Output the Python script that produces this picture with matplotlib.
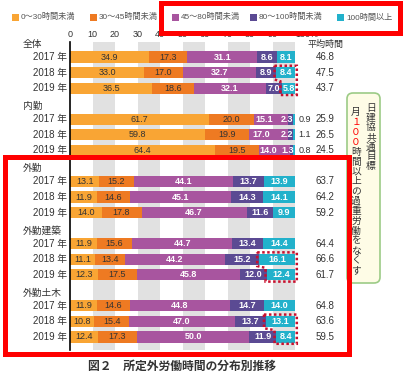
#!/usr/bin/env python3

import numpy as np
from matplotlib import pyplot, patches


GROUPS = ["全体", "内勤", "外勤", "外勤建築", "外勤土木"]
YEARS = ["2017 年", "2018 年", "2019 年"]

LEGEND = ["0～30時間未満", "30～45時間未満", "45～80時間未満",
          "80～100時間未満", "100時間以上"]

# share (%) per band, rows: group x year
H0_30 = [34.9, 33.0, 36.5, 61.7, 59.8, 64.4, 13.1, 11.9, 14.0,
         11.9, 11.1, 12.3, 11.9, 10.8, 12.4]
H30_45 = [17.3, 17.0, 18.6, 20.0, 19.9, 19.5, 15.2, 14.6, 17.8,
          15.6, 13.4, 17.5, 14.6, 15.4, 17.3]
H45_80 = [31.1, 32.7, 32.1, 15.1, 17.0, 14.0, 44.1, 45.1, 46.7,
          44.7, 44.2, 45.8, 44.8, 47.0, 50.0]
H80_100 = [8.6, 8.9, 7.0, 2.3, 2.2, 1.3, 13.7, 14.3, 11.6,
           13.4, 15.2, 12.0, 14.7, 13.7, 11.9]
H100 = [8.1, 8.4, 5.8, 0.9, 1.1, 0.8, 13.9, 14.1, 9.9,
        14.4, 16.1, 12.4, 14.0, 13.1, 8.4]
AVERAGE = [46.8, 47.5, 43.7, 25.9, 26.5, 24.5, 63.7, 64.2, 59.2,
           64.4, 66.6, 61.7, 64.8, 63.6, 59.5]

TICKS = [0, 10, 20, 30, 40, 50, 60, 70, 80, 90, 100]
TICK_LABELS = ["0", "10", "20", "30", "40", "50", "60", "70", "80", "90", "100%"]

COLOURS = ['#F9A534', '#EE7A22', '#A8559F', '#5B4A93', '#22B1CB']
TEXT = '#333333'
RED = '#FF0000'

W, H = 404, 380


def fx(px):
    return px / W


def fy(py):
    return 1 - py / H


def main():
    pyplot.rcParams['font.family'] = ['Liberation Sans', 'Noto Sans CJK JP', 'DejaVu Sans']

    fig = pyplot.figure(figsize=(W / 100, H / 100), dpi=100)
    fig.patch.set_facecolor('white')
    ax = fig.add_axes([fx(70), fy(350), fx(295) - fx(70), fy(42) - fy(350)])

    slot_px = 15.55
    top_slot = (42 - 41.5) / slot_px
    bottom_slot = (350 - 41.5) / slot_px
    ax.set_xlim(0, 100)
    ax.set_ylim(bottom_slot, top_slot)

    # grey bands
    for x0 in range(10, 100, 20):
        ax.axvspan(x0, x0 + 10, color='#E1E1E1', lw=0, zorder=0)

    for side in ("right", "top", "bottom"):
        ax.spines[side].set_visible(False)
    ax.spines["left"].set_linewidth(1.2)
    ax.spines["left"].set_color('black')
    ax.set_yticks([])
    ax.xaxis.tick_top()
    ax.set_xticks(TICKS)
    ax.set_xticklabels(TICK_LABELS)
    ax.tick_params(axis='x', length=0, pad=2, labelsize=6.5, labelcolor=TEXT)
    ax.get_xticklabels()[-1].set_horizontalalignment('left')
    ax.get_xticklabels()[-1].set_x(98.2)

    series = [H0_30, H30_45, H45_80, H80_100, H100]
    rows = []
    for g in range(len(GROUPS)):
        rows += [4 * g + 1, 4 * g + 2, 4 * g + 3]
        ax.text(-20.9, 4 * g + 0.15, GROUPS[g], fontsize=7, color=TEXT,
                ha='left', va='center', clip_on=False)
    rows = np.array(rows, dtype=float)
    for i, r in enumerate(rows):
        ax.text(-1.4, r, YEARS[i % 3], fontsize=7, color=TEXT,
                ha='right', va='center', clip_on=False)
        ax.text(113.5, r, f"{AVERAGE[i]:.1f}", fontsize=7, color=TEXT,
                ha='center', va='center', clip_on=False)
    ax.text(113.5, 0.2, "平均時間", fontsize=6.5, color=TEXT,
            ha='center', va='center', clip_on=False)

    bar_h = 0.72
    left = np.zeros(len(rows))
    for k, vals in enumerate(series):
        vals = np.array(vals)
        ax.barh(rows, vals, left=left, height=bar_h, color=COLOURS[k], lw=0, zorder=2)
        for i, v in enumerate(vals):
            txt = f"{v:.1f}"
            colour = TEXT if k < 2 else 'white'
            weight = 'normal' if k < 2 else 'bold'
            x, ha = left[i] + v / 2, 'center'
            if k == 4 and v < 2:
                x, ha, colour, weight = 101.5, 'left', TEXT, 'normal'
            elif k == 3 and v < 3:
                x, ha = left[i] + v + 0.2, 'right'
            elif k == 2 and series[3][i] < 3:
                x = left[i] + (v - 6) / 2
            ax.text(x, rows[i], txt, fontsize=6.5, color=colour, fontweight=weight,
                    ha=ha, va='center', zorder=3, clip_on=False)
        left += vals

    # dotted outlines around the 100h+ cells (2018 -> 2019)
    for a in (1, 10, 13):
        ya, yb = rows[a], rows[a + 1]
        la, lb = 100 - H100[a] - 0.7, 100 - H100[a + 1] - 0.7
        r = 100.8
        t, b = bar_h / 2 + 0.08, bar_h / 2 + 0.08
        pts = [(la, ya - t), (r, ya - t), (r, yb + b), (lb, yb + b),
               (lb, yb - t), (la, ya + b)]
        ax.add_patch(patches.Polygon(pts, closed=True, fill=False, ec='#C8102E',
                                     lw=1.8, ls=(0, (1, 1)), zorder=4, clip_on=False))

    # legend, drawn by hand so the spacing follows the original
    legend_x = [12, 90, 172, 250, 337]
    for x0, c, lab in zip(legend_x, COLOURS, LEGEND):
        fig.patches.append(patches.Rectangle((fx(x0), fy(21)), 7 / W, 7 / H,
                                             transform=fig.transFigure, fc=c, lw=0))
        fig.text(fx(x0 + 9), fy(17.5), lab, fontsize=5.9, color='#555555',
                 ha='left', va='center')

    # target note box
    fig.patches.append(patches.FancyBboxPatch(
        (fx(347), fy(283)), fx(380) - fx(347), fy(93) - fy(283),
        boxstyle="round,pad=0,rounding_size=0.015", transform=fig.transFigure,
        fc='#FEFCE6', ec='#9CCB86', lw=1.2))
    for j, ch in enumerate("日建協共通目標"):
        fig.text(fx(371), fy(108 + j * 9.6), ch, fontsize=7, color=TEXT,
                 ha='center', va='center', family='Noto Sans CJK JP')
    for j, ch in enumerate("月１００時間以上の過重労働をなくす"):
        fig.text(fx(356), fy(112 + j * 9.9), ch, fontsize=7,
                 color=RED if ch in "１０" else TEXT,
                 ha='center', va='center', family='Noto Sans CJK JP')

    fig.text(fx(182), fy(366), "図２　所定外労働時間の分布別推移", fontsize=8.5,
             color=TEXT, ha='center', va='center', fontweight='bold',
             family='Noto Sans CJK JP')

    # red highlight frames
    fig.patches.append(patches.Rectangle((fx(161), fy(33)), fx(400) - fx(161), fy(3) - fy(33),
                                         transform=fig.transFigure, fill=False,
                                         ec=RED, lw=3.6, zorder=10))
    fig.patches.append(patches.Rectangle((fx(5), fy(354)), fx(349) - fx(5), fy(157) - fy(354),
                                         transform=fig.transFigure, fill=False,
                                         ec=RED, lw=3.6, zorder=10))

    fig.savefig("out.png", dpi=100)


if __name__ == '__main__':
    main()
